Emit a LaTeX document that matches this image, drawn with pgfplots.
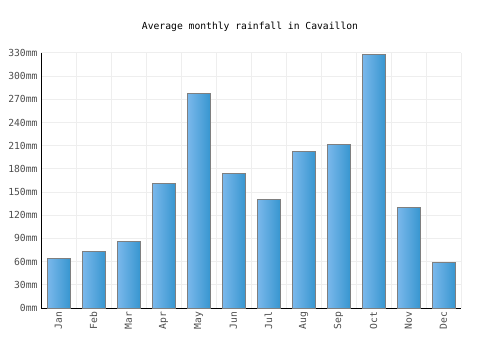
\documentclass[border=0pt]{standalone}
\usepackage{pgfplots}
\pgfplotsset{compat=1.18}
\usepackage{fontspec}
\setmainfont{DejaVu Sans Mono}
\definecolor{barL}{HTML}{7CB9EC}
\definecolor{barR}{HTML}{3896D0}
\definecolor{gridc}{HTML}{EEEEEE}
\definecolor{bord}{HTML}{7F7F7F}
\tikzset{mybar/.style={draw=bord, line width=1bp, left color=barL, right color=barR}}
\begin{document}
\begin{tikzpicture}[x=1bp,y=1bp]
\useasboundingbox (0,0) rectangle (500,350);
\node[font=\fontsize{9.7bp}{11bp}\selectfont] at (250,323) {Average monthly rainfall in Cavaillon};
\begin{axis}[
  at={(41bp,42bp)}, anchor=south west,
  scale only axis, width=420bp, height=255bp,
  xmin=-0.5, xmax=11.5, ymin=0, ymax=330,
  axis x line*=bottom, axis y line*=left,
  axis line style={black, line width=1bp},
  xtick={0,...,11},
  xticklabels={Jan,Feb,Mar,Apr,May,Jun,Jul,Aug,Sep,Oct,Nov,Dec},
  x tick label style={rotate=90, anchor=east},
  minor xtick={-0.5,0.5,...,11.5},
  ytick={0,30,...,330},
  yticklabel={\pgfmathprintnumber{\tick}mm},
  /pgf/number format/assume math mode=true,
  tick label style={font=\fontsize{9.7bp}{11bp}\selectfont, text=black!70},
  major tick length=0pt, minor tick length=0pt,
  ymajorgrids, xminorgrids,
  grid style={gridc, line width=1bp},
  minor grid style={gridc, line width=1bp},
  clip=false,
  ybar, bar width=23bp, bar shift=0pt,
]
\addplot[mybar] coordinates {(0,64)};
\addplot[mybar] coordinates {(1,72.5)};
\addplot[mybar] coordinates {(2,85.5)};
\addplot[mybar] coordinates {(3,160.5)};
\addplot[mybar] coordinates {(4,277)};
\addplot[mybar] coordinates {(5,173.5)};
\addplot[mybar] coordinates {(6,141)};
\addplot[mybar] coordinates {(7,202)};
\addplot[mybar] coordinates {(8,211)};
\addplot[mybar] coordinates {(9,328.5)};
\addplot[mybar] coordinates {(10,129.5)};
\addplot[mybar] coordinates {(11,59.5)};
\end{axis}
\end{tikzpicture}
\end{document}
